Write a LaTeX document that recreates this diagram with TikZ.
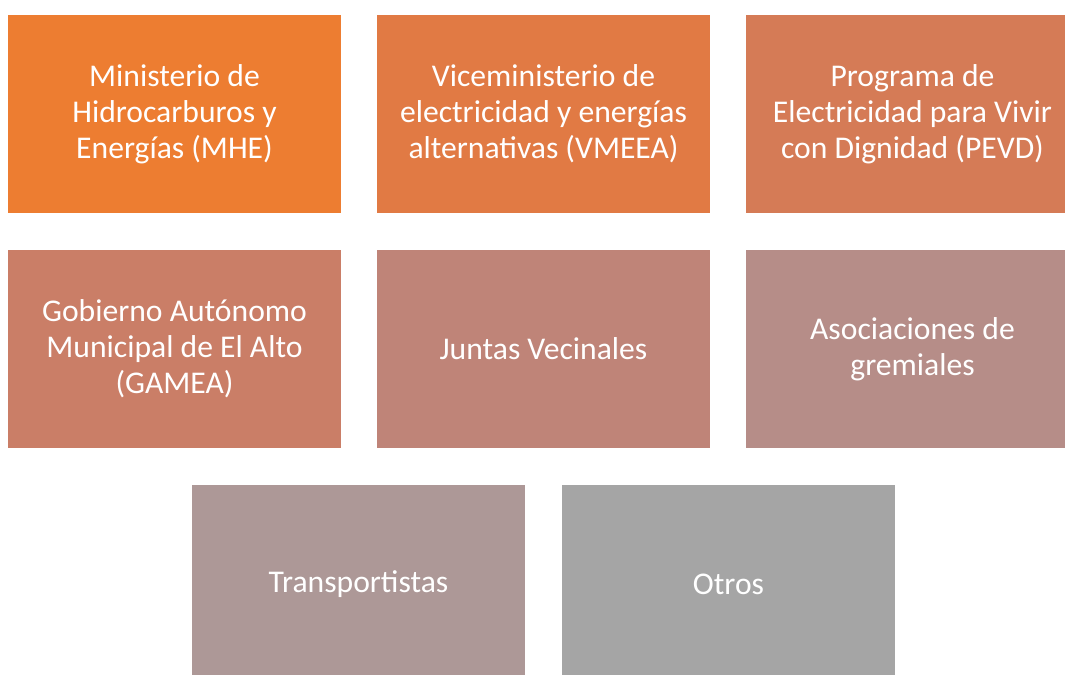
\documentclass[tikz,border=0pt]{standalone}
\usepackage{fontspec}
\setmainfont{Carlito}
\usepackage{xcolor}
\usetikzlibrary{positioning}
\definecolor{tono0}{RGB}{237,125,49}
\definecolor{tono1}{RGB}{225,122,68}
\definecolor{tono2}{RGB}{213,123,86}
\definecolor{tono3}{RGB}{202,126,103}
\definecolor{tono4}{RGB}{191,132,120}
\definecolor{tono5}{RGB}{182,141,136}
\definecolor{tono6}{RGB}{173,152,151}
\definecolor{tono7}{RGB}{165,165,165}
\tikzstyle{caja}    = [rectangle, minimum width=6.66cm, minimum height=3.96cm, inner sep=0pt, align=center, text=white, font=\fontsize{18}{20.5}\selectfont]

\begin{document}
\begin{tikzpicture}[x=0.02cm, y=-0.02cm]

\useasboundingbox[fill=white] (0,0) rectangle (1065,675);

\node[caja,fill=tono0] (MHE)   at (174.5,114) {Ministerio de\\Hidrocarburos y\\Energías (MHE)};
\node[caja,fill=tono1] (VMEEA) at (543.5,114) {Viceministerio de\\electricidad y energías\\alternativas (VMEEA)};
\node[caja,fill=tono2] (PEVD)  at (912.5,114) {Programa de\\Electricidad para Vivir\\con Dignidad (PEVD)};

\node[caja,fill=tono3] (GAMEA) at (174.5,349) {Gobierno Autónomo\\Municipal de El Alto\\(GAMEA)};
\node[caja,fill=tono4] (JV)    at (543.5,349) {Juntas Vecinales};
\node[caja,fill=tono5] (AG)    at (912.5,349) {Asociaciones de\\gremiales};

\node[caja,fill=tono6] (TR)    at (358.5,584) {Transportistas};
\node[caja,fill=tono7] (OT)    at (728.5,584) {Otros};

\end{tikzpicture}
\end{document}
